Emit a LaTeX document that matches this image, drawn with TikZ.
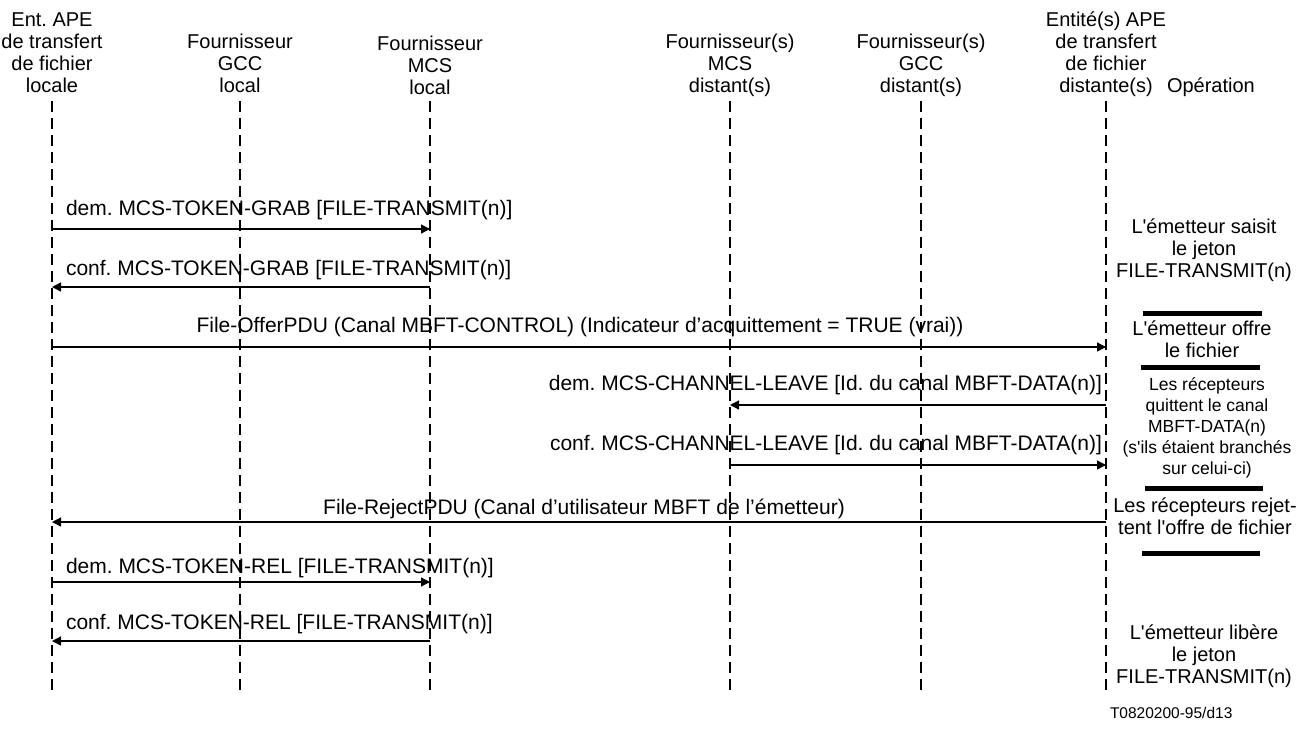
\documentclass[tikz,border=0pt]{standalone}
\usepackage{fontspec}
\setmainfont{Liberation Sans}
\usetikzlibrary{arrows.meta}
\frenchspacing
\begin{document}
\begin{tikzpicture}[x=1pt,y=-1pt,
  every node/.style={inner sep=0pt,outer sep=0pt},
  hdr/.style={align=center,font=\fontsize{20}{22}\selectfont,anchor=base},
  lab/.style={font=\fontsize{21}{22}\selectfont,anchor=base},
  op/.style={align=center,font=\fontsize{20}{22}\selectfont,anchor=base},
  life/.style={line width=1.3pt,dash pattern=on 11pt off 6pt},
  msg/.style={line width=1.3pt,-{Triangle[length=9pt,width=9pt]}},
  bar/.style={line width=5pt}]
\useasboundingbox (0,0) rectangle (1308,740);
% headers (base = last line)
\node[hdr] (h1) at (52,92) {Ent. APE\\de transfert\\de fichier\\locale};
\node[hdr] (h2) at (240,92) {Fournisseur\\GCC\\local};
\node[hdr] (h3) at (430,94) {Fournisseur\\MCS\\local};
\node[hdr] (h4) at (730,92) {Fournisseur(s)\\MCS\\distant(s)};
\node[hdr] (h5) at (921,92) {Fournisseur(s)\\GCC\\distant(s)};
\node[hdr] (h6) at (1106,92) {Entité(s) APE\\de transfert\\de fichier\\distante(s)};
\node[hdr,anchor=base west] (h7) at (1167,92) {Opération};
% lifelines
\foreach \n/\x in {a/52,b/240,c/430,d/730,e/921,f/1106}{
  \coordinate (\n) at (\x,101);
  \coordinate (\n end) at (\x,690);
  \draw[life] (\n) -- (\n end);
}
% messages
\draw[msg] (a |- 0,229) -- (c |- 0,229);
\node[lab,anchor=base west] (m1) at (66,215) {dem. MCS-TOKEN-GRAB [FILE-TRANSMIT(n)]};
\draw[msg] (c |- 0,287) -- (a |- 0,287);
\node[lab,anchor=base west] (m2) at (66,275) {conf. MCS-TOKEN-GRAB [FILE-TRANSMIT(n)]};
\draw[msg] (a |- 0,347) -- (f |- 0,347);
\node[lab] (m3) at (580,332) {File-OfferPDU (Canal MBFT-CONTROL) (Indicateur d’acquittement = TRUE (vrai))};
\draw[msg] (f |- 0,405) -- (d |- 0,405);
\node[lab,anchor=base east] (m4) at (1102,390) {dem. MCS-CHANNEL-LEAVE [Id. du canal MBFT-DATA(n)]};
\draw[msg] (d |- 0,465) -- (f |- 0,465);
\node[lab,anchor=base east] (m5) at (1102,450) {conf. MCS-CHANNEL-LEAVE [Id. du canal MBFT-DATA(n)]};
\draw[msg] (f |- 0,522) -- (a |- 0,522);
\node[lab] (m6) at (584,514) {File-RejectPDU (Canal d’utilisateur MBFT de l’émetteur)};
\draw[msg] (a |- 0,582) -- (c |- 0,582);
\node[lab,anchor=base west] (m7) at (66,573) {dem. MCS-TOKEN-REL [FILE-TRANSMIT(n)]};
\draw[msg] (c |- 0,641) -- (a |- 0,641);
\node[lab,anchor=base west] (m8) at (66,629) {conf. MCS-TOKEN-REL [FILE-TRANSMIT(n)]};
% operations (base = last line)
\node[op] (o1) at (1204,277) {L\textquotesingle émetteur saisit\\le jeton\\FILE-TRANSMIT(n)};
\draw[bar] (1143,313) -- (1262,313);
\node[op] (o2) at (1202,357) {L\textquotesingle émetteur offre\\le fichier};
\draw[bar] (1141,367) -- (1260,367);
\node[op,font=\fontsize{17.5}{21}\selectfont] (o3) at (1207,474) {Les récepteurs\\quittent le canal\\MBFT-DATA(n)\\(s\textquotesingle ils étaient branchés\\sur celui-ci)};
\draw[bar] (1145,488) -- (1263,488);
\node[op] (o4) at (1205,534) {Les récepteurs rejet-\\tent l\textquotesingle offre de fichier};
\draw[bar] (1142,553) -- (1260,553);
\node[op] (o5) at (1204,683) {L\textquotesingle émetteur libère\\le jeton\\FILE-TRANSMIT(n)};
% figure id
\node[font=\fontsize{15.5}{17}\selectfont,anchor=base west] (id) at (1110,718) {T0820200-95/d13};
\end{tikzpicture}
\end{document}
